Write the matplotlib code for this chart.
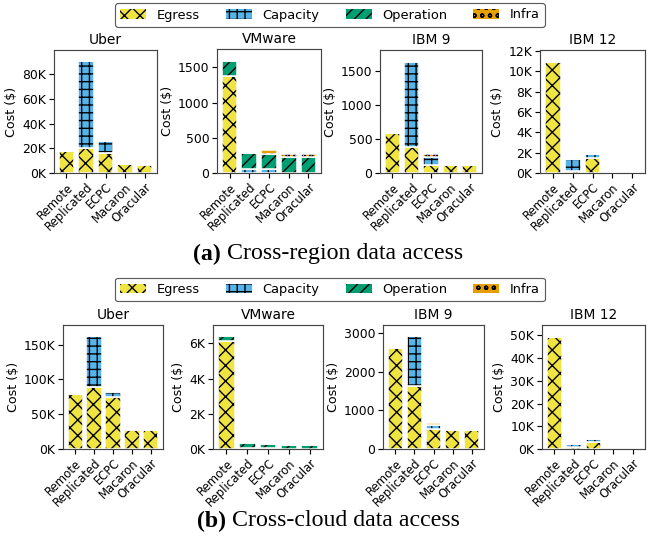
import matplotlib
matplotlib.use("Agg")
import matplotlib.pyplot as plt
from matplotlib.ticker import FuncFormatter, MultipleLocator
import numpy as np

DPI = 140
W, H = 651, 546

systems = ["Remote", "Replicated", "ECPC", "Macaron", "Oracular"]
components = ["Egress", "Capacity", "Operation", "Infra"]
datasets = ["Uber", "VMware", "IBM 9", "IBM 12"]

# (a) Cross-region data access
uber_a_egress = [18000, 20500, 16000, 7200, 6300]
uber_a_capacity = [0, 70500, 10000, 700, 600]
uber_a_operation = [0, 700, 500, 300, 300]
uber_a_infra = [0, 0, 0, 0, 0]

vmware_a_egress = [1380, 5, 5, 0, 0]
vmware_a_capacity = [0, 55, 55, 0, 0]
vmware_a_operation = [215, 225, 215, 225, 225]
vmware_a_infra = [0, 0, 50, 40, 40]

ibm9_a_egress = [585, 380, 120, 118, 118]
ibm9_a_capacity = [0, 1265, 110, 0, 0]
ibm9_a_operation = [0, 5, 5, 10, 10]
ibm9_a_infra = [0, 0, 40, 20, 20]

ibm12_a_egress = [10900, 150, 1450, 80, 60]
ibm12_a_capacity = [0, 1200, 450, 60, 20]
ibm12_a_operation = [100, 50, 100, 100, 80]
ibm12_a_infra = [0, 0, 0, 60, 40]

# (b) Cross-cloud data access
uber_b_egress = [79500, 89500, 74000, 27500, 27500]
uber_b_capacity = [0, 72000, 8500, 1200, 1200]
uber_b_operation = [0, 500, 500, 400, 400]
uber_b_infra = [0, 0, 0, 0, 0]

vmware_b_egress = [6150, 60, 10, 10, 10]
vmware_b_capacity = [0, 20, 60, 0, 0]
vmware_b_operation = [270, 240, 230, 220, 220]
vmware_b_infra = [0, 10, 40, 50, 50]

ibm9_b_egress = [2610, 1625, 520, 505, 505]
ibm9_b_capacity = [0, 1305, 110, 0, 0]
ibm9_b_operation = [0, 5, 5, 5, 5]
ibm9_b_infra = [0, 0, 35, 15, 15]

ibm12_b_egress = [49300, 800, 3200, 300, 300]
ibm12_b_capacity = [0, 1300, 1000, 0, 0]
ibm12_b_operation = [100, 200, 100, 250, 250]
ibm12_b_infra = [0, 0, 0, 150, 150]

panel_a = [
    [uber_a_egress, uber_a_capacity, uber_a_operation, uber_a_infra],
    [vmware_a_egress, vmware_a_capacity, vmware_a_operation, vmware_a_infra],
    [ibm9_a_egress, ibm9_a_capacity, ibm9_a_operation, ibm9_a_infra],
    [ibm12_a_egress, ibm12_a_capacity, ibm12_a_operation, ibm12_a_infra],
]
panel_b = [
    [uber_b_egress, uber_b_capacity, uber_b_operation, uber_b_infra],
    [vmware_b_egress, vmware_b_capacity, vmware_b_operation, vmware_b_infra],
    [ibm9_b_egress, ibm9_b_capacity, ibm9_b_operation, ibm9_b_infra],
    [ibm12_b_egress, ibm12_b_capacity, ibm12_b_operation, ibm12_b_infra],
]

ylims_a = [99700, 1760, 1815, 12100]
ylims_b = [178000, 7040, 3217, 54600]
ysteps_a = [20000, 500, 500, 2000]
ysteps_b = [50000, 2000, 1000, 10000]

colors = ["#F0E442", "#56B4E9", "#009E73", "#E69F00"]
hatches = ["xxx", "+++", "////", "ooo"]

plt.rcParams["hatch.linewidth"] = 0.7
plt.rcParams["font.family"] = "DejaVu Sans"

fig = plt.figure(figsize=(W / DPI, H / DPI), dpi=DPI)

# axes pixel boxes: (left, top, right, bottom)
boxes_a = [(54, 50, 157, 173), (217, 49, 321, 173), (380, 50, 482, 173), (540, 50, 645, 173)]
boxes_b = [(63, 325, 163, 449), (213, 325, 323, 449), (383, 325, 484, 449), (542, 325, 645, 449)]


def kfmt(v, pos):
    return f"{int(round(v / 1000))}K"


def draw_panel(data, boxes, ylims, ysteps):
    handles = None
    for name, series, box, ylim, ystep in zip(datasets, data, boxes, ylims, ysteps):
        l, t, r, b = box
        ax = fig.add_axes([l / W, 1 - b / H, (r - l) / W, (b - t) / H])
        x = np.arange(len(systems))
        bottom = np.zeros(len(systems))
        hs = []
        for vals, c, h, lab in zip(series, colors, hatches, components):
            vals = np.array(vals, dtype=float)
            bh = ax.bar(x, vals, 0.8, bottom=bottom, color=c, edgecolor="black",
                        linewidth=0, hatch=h, label=lab)
            ax.bar(x, vals, 0.8, bottom=bottom, fill=False, edgecolor="white", linewidth=0.8)
            hs.append(bh)
            bottom += vals
        handles = hs
        ax.set_ylim(0, ylim)
        ax.yaxis.set_major_locator(MultipleLocator(ystep))
        if ylim > 5000:
            ax.yaxis.set_major_formatter(FuncFormatter(kfmt))
        ax.set_xticks(x)
        ax.set_xticklabels(systems, rotation=45, ha="right", rotation_mode="anchor", fontsize=6.0)
        ax.tick_params(axis="y", labelsize=6.4, length=2.5, width=0.6, pad=1.5)
        ax.tick_params(axis="x", length=2.5, width=0.6, pad=1.5)
        ax.set_title(name, fontsize=7.1, pad=3)
        ax.set_ylabel("Cost ($)", fontsize=6.5, labelpad=2)
        for s in ax.spines.values():
            s.set_linewidth(0.6)
            s.set_color("#444444")
    return handles


ha = draw_panel(panel_a, boxes_a, ylims_a, ysteps_a)
hb = draw_panel(panel_b, boxes_b, ylims_b, ysteps_b)

for hnd, yc in [(ha, 15), (hb, 289.5)]:
    leg = fig.legend(hnd, components, loc="center", bbox_to_anchor=(330 / W, 1 - yc / H),
                     ncol=4, fontsize=6.7, frameon=True, handlelength=2.0, columnspacing=2.0,
                     borderpad=0.4, handletextpad=0.8)
    leg.get_frame().set_edgecolor("#333333")
    leg.get_frame().set_linewidth(0.6)

fig.canvas.draw()
renderer = fig.canvas.get_renderer()


def caption(label, text, xc, yc):
    t1 = fig.text(0, 1 - yc / H, label, fontsize=12.3, fontweight="bold",
                  family="Liberation Serif", va="center", ha="left")
    t2 = fig.text(0, 1 - yc / H, " " + text, fontsize=12.3,
                  family="Liberation Serif", va="center", ha="left")
    w1 = t1.get_window_extent(renderer).width
    w2 = t2.get_window_extent(renderer).width
    x0 = xc - (w1 + w2) / 2
    t1.set_x(x0 / W)
    t2.set_x((x0 + w1) / W)


caption("(a)", "Cross-region data access", 328, 254)
caption("(b)", "Cross-cloud data access", 328, 521)

fig.savefig("out.png", dpi=DPI)
